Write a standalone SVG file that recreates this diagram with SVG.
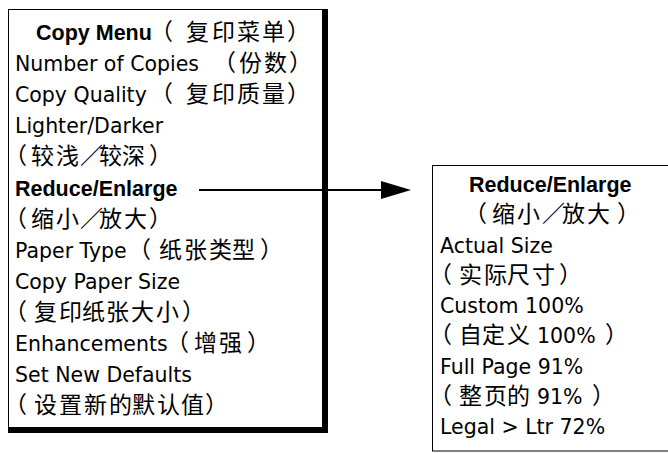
<svg xmlns="http://www.w3.org/2000/svg" width="668" height="453" viewBox="0 0 668 453">
<style>
.t{font-family:"DejaVu Sans","Noto Sans CJK SC",sans-serif;font-size:20.5px;fill:#000}
.b{font-family:"Liberation Sans","Noto Sans CJK SC",sans-serif;font-weight:bold;font-size:21.5px;fill:#000}
.c{font-family:"Noto Sans CJK SC",sans-serif;font-size:23px;font-weight:normal}
.frame{fill:#fff;stroke:#000;stroke-width:1}
.shadow{fill:#000}
.conn{stroke:#000;stroke-width:2;fill:none}
</style>
<rect width="668" height="453" fill="#fff"/>
<g id="copy-menu">
<rect class="frame" x="8.5" y="9.5" width="316" height="420"/>
<rect class="shadow" x="322" y="9" width="6" height="424"/>
<rect class="shadow" x="8" y="427" width="320" height="6"/>
<text class="b" x="36" y="40">Copy Menu <tspan class="c" x="150 186 212 237 262 287">（复印菜单）</tspan></text>
<text class="t" x="15" y="71.1">Number of Copies <tspan class="c" x="213 239 264 289">（份数）</tspan></text>
<text class="t" x="15" y="102.2">Copy Quality <tspan class="c" x="150 186 212 237 262 287">（复印质量）</tspan></text>
<text class="t" x="15" y="133.3">Lighter/Darker</text>
<text class="t" y="164.4"><tspan class="c" x="4 31 56 80 99 122 149">（较浅／较深）</tspan></text>
<text class="b" x="15" y="195.5">Reduce/Enlarge</text>
<text class="t" y="226.6"><tspan class="c" x="4 31 56 80 99 124 149">（缩小／放大）</tspan></text>
<text class="t" x="15" y="257.7">Paper Type <tspan class="c" x="128 159 184 209 232 260">（纸张类型）</tspan></text>
<text class="t" x="15" y="288.8">Copy Paper Size</text>
<text class="t" y="319.9"><tspan class="c" x="4 34 59 82 106 131 156 182">（复印纸张大小）</tspan></text>
<text class="t" x="15" y="351">Enhancements <tspan class="c" x="166 194 219 247">（增强）</tspan></text>
<text class="t" x="15" y="382.1">Set New Defaults</text>
<text class="t" y="413.2"><tspan class="c" x="4 34 59 84 109 132 157 181 205">（设置新的默认值）</tspan></text>
</g>
<g id="reduce-enlarge">
<rect class="frame" x="432.5" y="165.5" width="236" height="285.5"/>
<text class="b" x="469" y="192">Reduce/Enlarge</text>
<text class="t" y="222.25"><tspan class="c" x="464 492 517 542 562 587 617">（缩小／放大）</tspan></text>
<text class="t" x="440" y="252.5">Actual Size</text>
<text class="t" y="282.75"><tspan class="c" x="429 459 484 507 532 559">（实际尺寸）</tspan></text>
<text class="t" x="440" y="313">Custom 100%</text>
<text class="t" y="343.25"><tspan class="c" x="429 459 482 507">（自定义 </tspan><tspan x="537">100%</tspan><tspan class="c" x="605">）</tspan></text>
<text class="t" x="440" y="373.5">Full Page 91%</text>
<text class="t" y="403.75"><tspan class="c" x="429 459 484 507">（整页的 </tspan><tspan x="537">91%</tspan><tspan class="c" x="592">）</tspan></text>
<text class="t" x="440" y="434">Legal &gt; Ltr 72%</text>
</g>
<g id="connectors">
<line class="conn" x1="199" y1="190" x2="384" y2="190"/>
<polygon points="411,190 381,181 381,199" fill="#000"/>
</g>
</svg>
